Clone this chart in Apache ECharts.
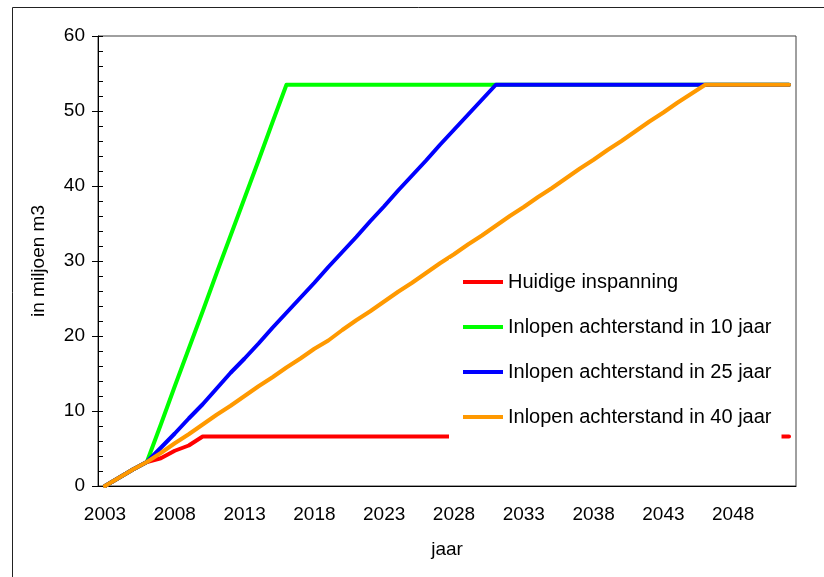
<!DOCTYPE html>
<html>
<head>
<meta charset="utf-8">
<script src="https://cdn.jsdelivr.net/npm/echarts@6/dist/echarts.min.js"></script>
<style>
  html, body { margin: 0; padding: 0; background: #fff; }
  #chart { width: 824px; height: 577px; }
</style>
</head>
<body>
<div id="chart"></div>
<script>
// Years on the category axis (one category per year)
const years = [];
for (let y = 2003; y <= 2052; y++) years.push(String(y));

const seriesNames = [
  'Huidige inspanning',
  'Inlopen achterstand in 10 jaar',
  'Inlopen achterstand in 25 jaar',
  'Inlopen achterstand in 40 jaar'
];

// Cumulative volume, in miljoen m3
const huidige = [
  0, 1.1, 2.2, 3.2, 3.7, 4.7, 5.4, 6.6, 6.6, 6.6,
  6.6, 6.6, 6.6, 6.6, 6.6, 6.6, 6.6, 6.6, 6.6, 6.6,
  6.6, 6.6, 6.6, 6.6, 6.6, 6.6, 6.6, 6.6, 6.6, 6.6,
  6.6, 6.6, 6.6, 6.6, 6.6, 6.6, 6.6, 6.6, 6.6, 6.6,
  6.6, 6.6, 6.6, 6.6, 6.6, 6.6, 6.6, 6.6, 6.6, 6.6
];
const achterstand10 = [
  0, 1.1, 2.2, 3.2, 8.2, 13.3, 18.3, 23.3, 28.4, 33.4,
  38.4, 43.4, 48.5, 53.5, 53.5, 53.5, 53.5, 53.5, 53.5, 53.5,
  53.5, 53.5, 53.5, 53.5, 53.5, 53.5, 53.5, 53.5, 53.5, 53.5,
  53.5, 53.5, 53.5, 53.5, 53.5, 53.5, 53.5, 53.5, 53.5, 53.5,
  53.5, 53.5, 53.5, 53.5, 53.5, 53.5, 53.5, 53.5, 53.5, 53.5
];
const achterstand25 = [
  0, 1.1, 2.2, 3.2, 5.1, 7.0, 9.0, 10.9, 13.0, 15.1,
  17.0, 19.0, 21.1, 23.1, 25.1, 27.1, 29.2, 31.2, 33.2, 35.3,
  37.3, 39.4, 41.4, 43.4, 45.5, 47.5, 49.5, 51.5, 53.5, 53.5,
  53.5, 53.5, 53.5, 53.5, 53.5, 53.5, 53.5, 53.5, 53.5, 53.5,
  53.5, 53.5, 53.5, 53.5, 53.5, 53.5, 53.5, 53.5, 53.5, 53.5
];
const achterstand40 = [
  0, 1.1, 2.2, 3.2, 4.4, 5.7, 6.9, 8.2, 9.5, 10.7,
  12.0, 13.3, 14.5, 15.8, 17.0, 18.3, 19.4, 20.8, 22.1, 23.3,
  24.6, 25.9, 27.1, 28.4, 29.7, 30.9, 32.2, 33.4, 34.7, 36.0,
  37.2, 38.5, 39.7, 41.0, 42.3, 43.5, 44.8, 46.0, 47.3, 48.6,
  49.8, 51.1, 52.3, 53.5, 53.5, 53.5, 53.5, 53.5, 53.5, 53.5
];

const seriesData = [huidige, achterstand10, achterstand25, achterstand40];
const seriesColors = ['#FF0000', '#00FF00', '#0000FF', '#FF9900'];

const FONT = '"Liberation Sans", Arial, sans-serif';

const chart = echarts.init(document.getElementById('chart'), null, { renderer: 'canvas' });

chart.setOption({
  animation: false,
  backgroundColor: '#ffffff',
  textStyle: { fontFamily: FONT, color: '#000' },
  graphic: [{
    type: 'rect',
    left: 10, top: 5,
    shape: { width: 900, height: 700 },
    style: { fill: 'none', stroke: '#222', lineWidth: 1 },
    silent: true, z: -10
  }],
  grid: {
    left: 98, right: 28, top: 36, bottom: 91,
    show: true, borderColor: '#404040', borderWidth: 1,
    backgroundColor: 'transparent'
  },
  legend: {
    orient: 'vertical',
    left: 449, top: 259,
    padding: [13, 10, 14, 14],
    itemGap: 25,
    itemWidth: 40, itemHeight: 4,
    icon: 'rect',
    backgroundColor: '#ffffff',
    textStyle: { fontFamily: FONT, fontSize: 20, color: '#000' },
    data: seriesNames
  },
  xAxis: {
    type: 'category',
    data: years,
    boundaryGap: true,
    name: 'jaar',
    nameLocation: 'middle',
    nameGap: 54,
    nameTextStyle: { fontFamily: FONT, fontSize: 19, color: '#000' },
    axisLine: { lineStyle: { color: '#000', width: 1 } },
    axisTick: { interval: 4, length: 6, inside: false, lineStyle: { color: '#000' } },
    axisLabel: { interval: 4, margin: 19, fontFamily: FONT, fontSize: 19, color: '#000' },
    splitLine: { show: false }
  },
  yAxis: [{
    type: 'value',
    min: 0, max: 60, interval: 10,
    name: 'in miljoen m3',
    nameLocation: 'middle',
    nameGap: 50,
    nameRotate: 90,
    nameTextStyle: { fontFamily: FONT, fontSize: 19, color: '#000' },
    axisLine: { show: true, lineStyle: { color: '#000', width: 1 } },
    axisTick: { show: true, inside: true, length: 5, lineStyle: { color: '#000' } },
    minorTick: { show: true, splitNumber: 5, length: 5, lineStyle: { color: '#000' } },
    axisLabel: { margin: 13, fontFamily: FONT, fontSize: 19, color: '#000' },
    splitLine: { show: false }
  }, {
    // outer half of the major ticks on the value axis
    type: 'value',
    position: 'left',
    offset: 0,
    min: 0, max: 60, interval: 10,
    axisLine: { show: false },
    axisTick: { show: true, inside: false, length: 6, lineStyle: { color: '#000' } },
    axisLabel: { show: false },
    splitLine: { show: false }
  }],
  series: seriesNames.map((name, i) => ({
    name: name,
    type: 'line',
    yAxisIndex: 0,
    data: seriesData[i],
    symbol: 'none',
    showSymbol: false,
    smooth: false,
    color: seriesColors[i],
    lineStyle: { color: seriesColors[i], width: 4, cap: 'round', join: 'round' },
    z: 2
  }))
});
</script>
</body>
</html>
